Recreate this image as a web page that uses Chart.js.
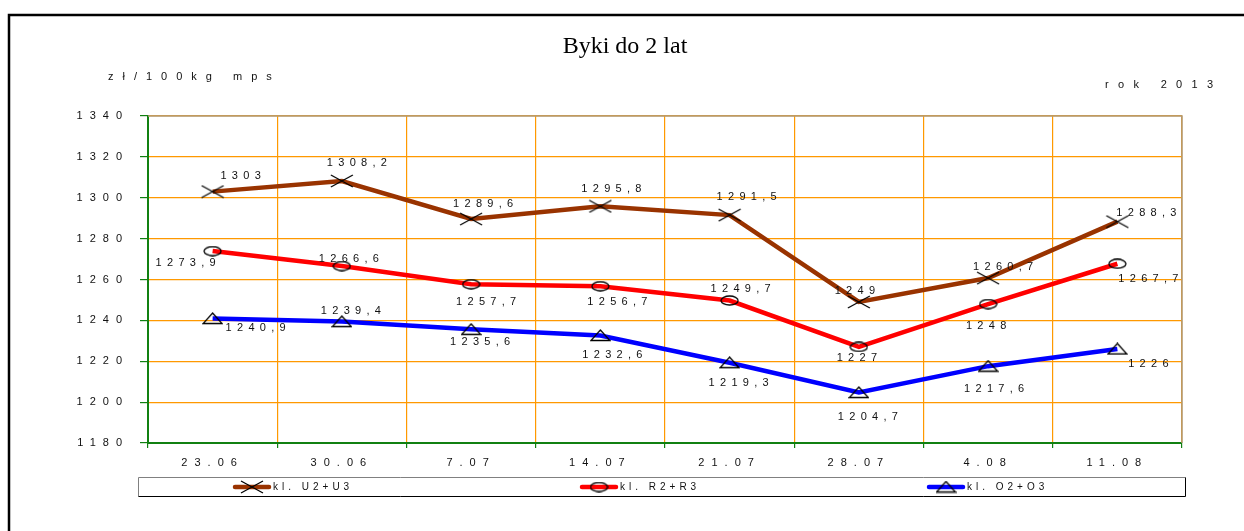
<!DOCTYPE html>
<html>
<head>
<meta charset="utf-8">
<script src="https://cdn.jsdelivr.net/npm/chart.js@4"></script>
<style>
  html, body { margin: 0; padding: 0; background: #fff; }
  #wrap { width: 1244px; height: 531px; position: relative; }
</style>
</head>
<body>
<div id="wrap"><canvas id="c" width="1244" height="531"></canvas></div>
<script>
// data
const dates = ['23.06', '30.06', '7.07', '14.07', '21.07', '28.07', '4.08', '11.08'];
const classU = [1303, 1308.2, 1289.6, 1295.8, 1291.5, 1249, 1260.7, 1288.3];
const classR = [1273.9, 1266.6, 1257.7, 1256.7, 1249.7, 1227, 1248, 1267.7];
const classO = [1240.9, 1239.4, 1235.6, 1232.6, 1219.3, 1204.7, 1217.6, 1226];
const seriesNames = ['kl. U2+U3', 'kl. R2+R3', 'kl. O2+O3'];
const yMin = 1180, yMax = 1340, yStep = 20;

// where each value label sits relative to its point (dx, dy)
const labelOffsets = [
    [[28, -16], [15, -18], [12, -15], [11, -17], [17, -18], [-4, -11], [15, -11], [29, -9]],
    [[-27, 12], [7, -7], [15, 18], [17, 16], [11, -12], [-2, 11], [-2, 22], [31, 15]],
    [[43, 9], [9, -11], [9, 13], [12, 19], [9, 20], [9, 24], [6, 23], [31, 15]]
];

const GREEN = '#118011';
const ORANGE = '#FF9900';
const TAN = '#B09A7A';
const TXT = '#111';

function makeMarker(kind) {
    const cv = document.createElement('canvas');
    const sizes = { cross: [24, 14], ellipse: [19, 11], triangle: [21, 13] };
    const [w, h] = sizes[kind];
    cv.width = w; cv.height = h;
    const c = cv.getContext('2d');
    c.strokeStyle = '#000';
    c.lineWidth = 1.3;
    c.beginPath();
    if (kind === 'cross') {
        c.moveTo(1, 1); c.lineTo(w - 1, h - 1);
        c.moveTo(1, h - 1); c.lineTo(w - 1, 1);
    } else if (kind === 'ellipse') {
        c.ellipse(w / 2, h / 2, w / 2 - 1, h / 2 - 1, 0, 0, Math.PI * 2);
    } else {
        c.moveTo(w / 2, 1); c.lineTo(w - 1, h - 1.5); c.lineTo(1, h - 1.5); c.closePath();
    }
    c.stroke();
    return cv;
}

const markers = [makeMarker('cross'), makeMarker('ellipse'), makeMarker('triangle')];
const lineColors = ['#993300', '#FF0000', '#0000FF'];

function spacedText(ctx, text, x, y, spacing, align) {
    ctx.letterSpacing = spacing + 'px';
    const w = ctx.measureText(text).width - spacing;
    let left = x;
    if (align === 'center') left = x - w / 2;
    else if (align === 'right') left = x - w;
    ctx.textAlign = 'left';
    ctx.fillText(text, left, y);
    ctx.letterSpacing = '0px';
}

function fmt(v) {
    return String(v).replace('.', ',');
}

const decorPlugin = {
    id: 'decor',
    beforeDraw(chart) {
        const ctx = chart.ctx;
        ctx.save();
        ctx.fillStyle = '#fff';
        ctx.fillRect(0, 0, chart.width, chart.height);
        ctx.strokeStyle = '#000';
        ctx.lineWidth = 2.5;
        ctx.beginPath();
        ctx.moveTo(9, chart.height + 5);
        ctx.lineTo(9, 15);
        ctx.lineTo(chart.width + 5, 15);
        ctx.stroke();
        ctx.restore();
        // spaced-out lettering for the tick labels
        ctx.letterSpacing = '7px';
    },
    afterDatasetsDraw(chart) {
        const ctx = chart.ctx;
        ctx.save();
        ctx.font = '11px "Liberation Sans", Arial, sans-serif';
        ctx.fillStyle = TXT;
        ctx.textBaseline = 'middle';
        chart.data.datasets.forEach((ds, i) => {
            const meta = chart.getDatasetMeta(i);
            meta.data.forEach((pt, j) => {
                const off = labelOffsets[i][j];
                spacedText(ctx, fmt(ds.data[j]), pt.x + off[0], pt.y + off[1], 5.3, 'center');
            });
        });
        ctx.restore();
    },
    afterDraw(chart) {
        const ctx = chart.ctx;
        const a = chart.chartArea;
        ctx.save();
        ctx.letterSpacing = '0px';
        // top and right frame of the plot
        ctx.strokeStyle = TAN;
        ctx.lineWidth = 1.5;
        ctx.beginPath();
        ctx.moveTo(a.left, a.top);
        ctx.lineTo(a.right, a.top);
        ctx.lineTo(a.right, a.bottom);
        ctx.stroke();

        // titles
        ctx.fillStyle = '#000';
        ctx.textBaseline = 'middle';
        ctx.textAlign = 'center';
        ctx.font = '24px "Liberation Serif", "Times New Roman", serif';
        ctx.fillText('Byki do 2 lat', 625, 47);
        ctx.font = '11px "Liberation Sans", Arial, sans-serif';
        ctx.fillStyle = TXT;
        spacedText(ctx, 'zł/100kg mps', 108, 77, 9, 'left');
        spacedText(ctx, 'rok 2013', 1213, 85, 9.3, 'right');

        // legend
        const bx = 138, by = 477, bw = 1047, bh = 19;
        ctx.fillStyle = '#fff';
        ctx.fillRect(bx, by, bw, bh);
        ctx.lineWidth = 1;
        ctx.strokeStyle = '#808080';
        ctx.beginPath();
        ctx.moveTo(bx + 0.5, by + bh + 0.5); ctx.lineTo(bx + 0.5, by + 0.5); ctx.lineTo(bx + bw + 0.5, by + 0.5);
        ctx.stroke();
        ctx.strokeStyle = '#000';
        ctx.beginPath();
        ctx.moveTo(bx + bw + 0.5, by + 0.5); ctx.lineTo(bx + bw + 0.5, by + bh + 0.5); ctx.lineTo(bx + 0.5, by + bh + 0.5);
        ctx.stroke();
        const cy = by + bh / 2 + 0.5;
        chart.data.datasets.forEach((ds, i) => {
            const x0 = bx + 97 + i * 347;
            ctx.strokeStyle = ds.borderColor;
            ctx.lineWidth = 4.5;
            ctx.lineCap = 'round';
            ctx.beginPath();
            ctx.moveTo(x0, cy); ctx.lineTo(x0 + 34, cy);
            ctx.stroke();
            const m = ds.pointStyle;
            ctx.drawImage(m, x0 + 17 - m.width / 2, cy - m.height / 2);
            ctx.fillStyle = TXT;
            ctx.font = '10px "Liberation Sans", Arial, sans-serif';
            spacedText(ctx, ds.label, x0 + 38, cy, 4, 'left');
        });
        ctx.restore();
    }
};

new Chart(document.getElementById('c'), {
    type: 'line',
    data: {
        labels: dates,
        datasets: [classU, classR, classO].map((vals, i) => ({
            label: seriesNames[i],
            data: vals,
            borderColor: lineColors[i],
            backgroundColor: lineColors[i],
            borderWidth: 4.5,
            tension: 0,
            fill: false,
            pointStyle: markers[i],
            pointRadius: 8,
            pointHoverRadius: 8
        }))
    },
    options: {
        responsive: false,
        animation: false,
        events: [],
        layout: { padding: { left: 60, top: 116, right: 62, bottom: 58 } },
        plugins: {
            legend: { display: false },
            title: { display: false },
            tooltip: { enabled: false }
        },
        scales: {
            x: {
                offset: true,
                grid: { offset: true, color: ORANGE, lineWidth: 1.2, tickLength: 5, tickColor: GREEN },
                border: { color: GREEN, width: 2 },
                ticks: {
                    color: TXT,
                    font: { family: '"Liberation Sans", Arial, sans-serif', size: 11 },
                    padding: 8,
                    maxRotation: 0
                },
                afterFit(scale) { scale.height = 30; }
            },
            y: {
                min: yMin,
                max: yMax,
                grid: { color: ORANGE, lineWidth: 1.2, tickLength: 8, tickColor: GREEN },
                border: { color: GREEN, width: 2 },
                ticks: {
                    stepSize: yStep,
                    color: TXT,
                    padding: 11,
                    font: { family: '"Liberation Sans", Arial, sans-serif', size: 11 },
                    callback: v => String(v)
                },
                afterFit(scale) { scale.width = 88; }
            }
        }
    },
    plugins: [decorPlugin]
});
</script>
</body>
</html>
